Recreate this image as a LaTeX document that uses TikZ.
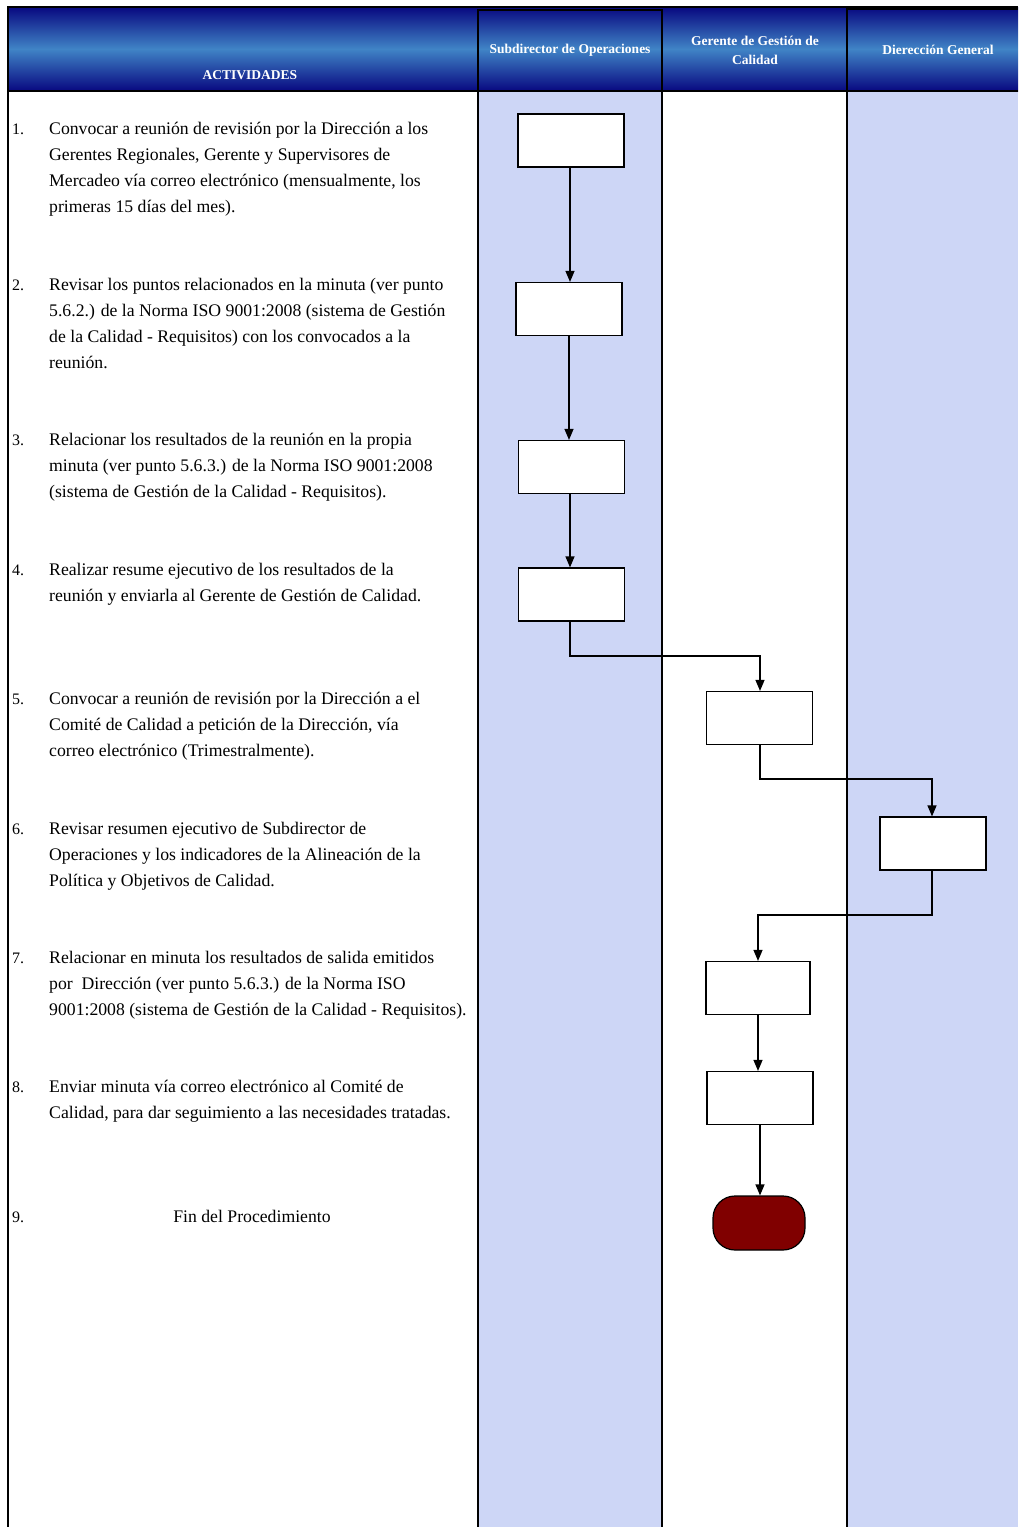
\documentclass[tikz,border=0pt]{standalone}
\usepackage{fontspec}
\setmainfont{Liberation Serif}
\usetikzlibrary{arrows.meta}
\definecolor{hdrdark}{RGB}{8,8,128}
\definecolor{hdrlight}{RGB}{64,132,198}
\definecolor{lanefill}{RGB}{205,214,246}
\definecolor{termred}{RGB}{128,0,0}
\newcommand{\actlines}[1]{\begin{tabular}[t]{@{}l@{}}#1\end{tabular}}
\tikzset{
	actbox/.style={draw, fill=white, line width=1.2pt, minimum width=106pt, minimum height=53pt, inner sep=0pt},
	flow/.style={line width=1.2pt, -{Triangle[length=11pt, width=9pt]}},
	hdrtext/.style={text=white, font=\fontsize{13.5}{19}\selectfont\bfseries, align=center},
	acttext/.style={anchor=base west, inner sep=0pt, font=\fontsize{17.7}{26}\selectfont},
	actnum/.style={anchor=base west, inner sep=0pt, font=\fontsize{16}{26}\selectfont}
}
\begin{document}
\begin{tikzpicture}[x=1pt, y=-1pt]
		%%%%% START %%%%%
		\useasboundingbox (0, 0) rectangle (1018, 1527);
		
		% lanes
		\fill[lanefill] (478, 90) rectangle (662, 1527);
		\fill[lanefill] (847, 90) rectangle (1018, 1527);
		
		% header band
		\shade[top color=hdrdark, bottom color=hdrdark, middle color=hdrlight] (7, 7) rectangle (1018, 91);
		\draw[line width=1.2pt] (7, 7) -- (1018, 7);
		\draw[line width=2pt] (7, 91) -- (1018, 91);
		\draw[line width=1.5pt] (8, 7) -- (8, 1527);
		\draw[line width=1.5pt] (478, 1527) -- (478, 10) -- (662, 10) -- (662, 1527);
		\draw[line width=1.5pt] (847, 1527) -- (847, 9) -- (1018, 9);
		
		\node[hdrtext] (hact) at (250, 75) {ACTIVIDADES};
		\node[hdrtext] (hsub) at (570, 50) {Subdirector de Operaciones};
		\node[hdrtext] (hger) at (755, 50) {Gerente de Gestión de\\Calidad};
		\node[hdrtext] (hdir) at (938, 50) {Dierección General};
		
		% activities
		\node[actnum] at (12, 134) {1.};
		\node[acttext] (t1) at (49, 134) {\actlines{Convocar a reunión de revisión por la Dirección a los\\Gerentes Regionales, Gerente y Supervisores de\\Mercadeo vía correo electrónico (mensualmente, los\\primeras 15 días del mes).}};
		\node[actnum] at (12, 290) {2.};
		\node[acttext] (t2) at (49, 290) {\actlines{Revisar los puntos relacionados en la minuta (ver punto\\5.6.2.) de la Norma ISO 9001:2008 (sistema de Gestión\\de la Calidad - Requisitos) con los convocados a la\\reunión.}};
		\node[actnum] at (12, 445) {3.};
		\node[acttext] (t3) at (49, 445) {\actlines{Relacionar los resultados de la reunión en la propia\\minuta (ver punto 5.6.3.) de la Norma ISO 9001:2008\\(sistema de Gestión de la Calidad - Requisitos).}};
		\node[actnum] at (12, 575) {4.};
		\node[acttext] (t4) at (49, 575) {\actlines{Realizar resume ejecutivo de los resultados de la\\reunión y enviarla al Gerente de Gestión de Calidad.}};
		\node[actnum] at (12, 704) {5.};
		\node[acttext] (t5) at (49, 704) {\actlines{Convocar a reunión de revisión por la Dirección a el\\Comité de Calidad a petición de la Dirección, vía\\correo electrónico (Trimestralmente).}};
		\node[actnum] at (12, 834) {6.};
		\node[acttext] (t6) at (49, 834) {\actlines{Revisar resumen ejecutivo de Subdirector de\\Operaciones y los indicadores de la Alineación de la\\Política y Objetivos de Calidad.}};
		\node[actnum] at (12, 963) {7.};
		\node[acttext] (t7) at (49, 963) {\actlines{Relacionar en minuta los resultados de salida emitidos\\por~~Dirección (ver punto 5.6.3.) de la Norma ISO\\9001:2008 (sistema de Gestión de la Calidad - Requisitos).}};
		\node[actnum] at (12, 1092) {8.};
		\node[acttext] (t8) at (49, 1092) {\actlines{Enviar minuta vía correo electrónico al Comité de\\Calidad, para dar seguimiento a las necesidades tratadas.}};
		\node[actnum] at (12, 1222) {9.};
		\node[acttext, anchor=base] (t9) at (252, 1222) {Fin del Procedimiento};
		
		% boxes
		\node[actbox] (b1) at (571, 140.5) {};
		\node[actbox] (b2) at (569, 309) {};
		\node[actbox] (b3) at (571.5, 467) {};
		\node[actbox] (b4) at (571.5, 594.5) {};
		\node[actbox] (b5) at (759.5, 718) {};
		\node[actbox] (b6) at (933, 843.5) {};
		\node[actbox, minimum width=104pt] (b7) at (758, 988) {};
		\node[actbox] (b8) at (760, 1098) {};
		\node[draw, line width=1.2pt, fill=termred, rounded corners=22pt, minimum width=92pt, minimum height=54pt] (fin) at (759, 1223) {};
		
		% connectors
		\draw[flow] (b1.south -| 570, 0) -- (b2.north -| 570, 0);
		\draw[flow] (b2) -- (b3.north -| b2);
		\draw[flow] (b3.south -| 570, 0) -- (b4.north -| 570, 0);
		\draw[flow] (b4.south -| 570, 0) -- (570, 656) -- (760, 656) -- (b5.north -| 760, 0);
		\draw[flow] (b5.south -| 760, 0) -- (760, 779) -- (932, 779) -- (b6.north -| 932, 0);
		\draw[flow] (b6.south -| 932, 0) -- (932, 915) -- (758, 915) -- (b7.north);
		\draw[flow] (b7) -- (b8.north -| b7);
		\draw[flow] (b8.south -| 760, 0) -- (fin.north -| 760, 0);
		%%%%% END %%%%%
\end{tikzpicture}
\end{document}
